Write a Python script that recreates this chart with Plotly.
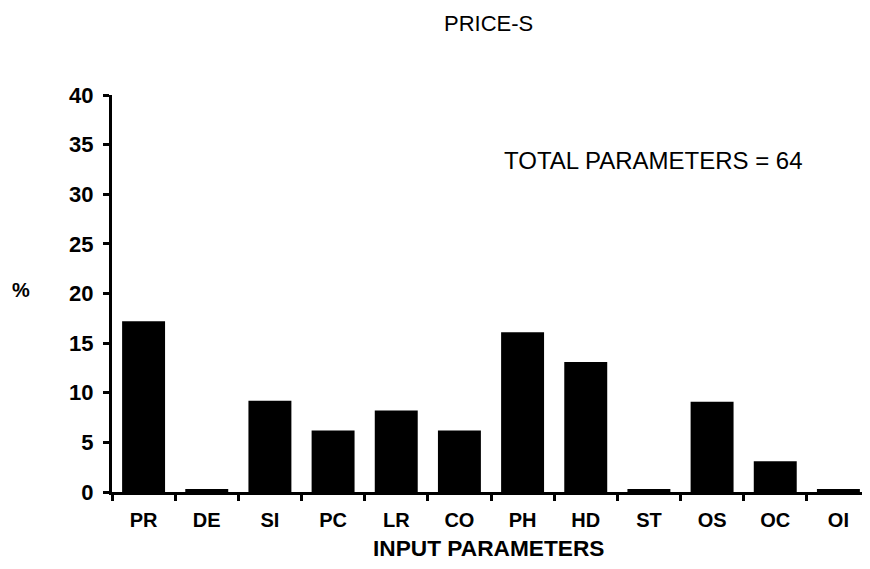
import plotly.graph_objects as go

categories = ["PR", "DE", "SI", "PC", "LR", "CO", "PH", "HD", "ST", "OS", "OC", "OI"]
percent = [17.2, 0.3, 9.2, 6.2, 8.2, 6.2, 16.1, 13.1, 0.3, 9.1, 3.1, 0.3]
y_ticks = [0, 5, 10, 15, 20, 25, 30, 35, 40]
x_tick_text = ["PR", "DE", "SI", "PC", "LR", "CO", "PH", "HD", "ST", "OS", "OC", "OI"]

FONT = "Liberation Sans, Arial, sans-serif"

fig = go.Figure()
fig.add_trace(go.Bar(x=categories, y=percent, marker=dict(color="black", line=dict(width=0))))

fig.update_layout(
    width=870, height=569,
    margin=dict(l=104, r=8, t=87, b=85),
    paper_bgcolor="white", plot_bgcolor="white",
    bargap=0.32,
    showlegend=False,
    font=dict(family=FONT, color="black", size=20),
)

fig.update_xaxes(
    type="category", range=[-0.5, 11.5],
    tickmode="array", tickvals=categories, ticktext=x_tick_text,
    tickson="boundaries", ticks="outside", ticklen=6, tickwidth=3, tickcolor="black",
    showline=True, linewidth=3, linecolor="black",
    showgrid=False, zeroline=False,
    ticklabelstandoff=8,
    tickfont=dict(family=FONT, size=20, color="black", weight="bold"),
)
fig.update_yaxes(
    range=[0, 40], tickmode="array", tickvals=y_ticks,
    ticks="outside", ticklen=6, tickwidth=3, tickcolor="black",
    showline=True, linewidth=3, linecolor="black",
    showgrid=False, zeroline=False,
    ticklabelstandoff=5,
    tickfont=dict(family=FONT, size=22, color="black", weight="bold"),
)

fig.add_annotation(text="PRICE-S", xref="paper", yref="paper",
                   x=0.497, y=1.2166, showarrow=False, xanchor="center", yanchor="top",
                   font=dict(family=FONT, size=22, color="black"))
fig.add_annotation(text="TOTAL PARAMETERS = 64", xref="paper", yref="paper",
                   x=0.714, y=0.836, showarrow=False, xanchor="center", yanchor="middle",
                   font=dict(family=FONT, size=24, color="black"))
fig.add_annotation(text="%", xref="paper", yref="paper",
                   x=-0.12, y=0.509, showarrow=False, xanchor="center", yanchor="middle",
                   font=dict(family=FONT, size=20, color="black", weight="bold"))
fig.add_annotation(text="INPUT PARAMETERS", xref="paper", yref="paper",
                   x=0.497, y=-0.141, showarrow=False, xanchor="center", yanchor="middle",
                   font=dict(family=FONT, size=22.7, color="black", weight="bold"))

fig.write_html("out.html")
